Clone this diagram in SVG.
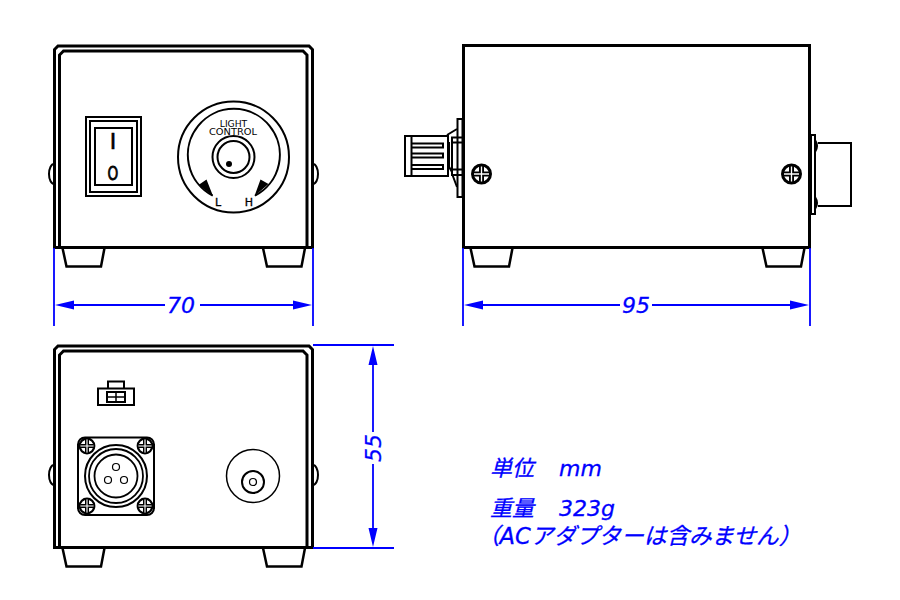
<svg xmlns="http://www.w3.org/2000/svg" width="900" height="600" viewBox="0 0 900 600">
<style>
.k{fill:none;stroke:#000;stroke-width:2}
.w{fill:#fff;stroke:#000;stroke-width:2}
.f{fill:none;stroke:#000;stroke-width:2.500}
.box{fill:none;stroke:#000;stroke-width:3}
.d{fill:none;stroke:#0000ff;stroke-width:1.800}
.dt{fill:#0000ff;stroke:#0000ff;stroke-width:0.300;font-family:"DejaVu Sans","Noto Sans CJK JP",sans-serif;font-style:italic}
.t{fill:#000;font-family:"DejaVu Sans",sans-serif}
</style>
<defs>
<g id="screw"><circle r="9" fill="#fff" stroke="#000" stroke-width="3"/><path d="M-8 0H8M0-8V8" stroke="#000" stroke-width="5"/><path d="M-7.500 0H7.500M0-7.500V7.500" stroke="#fff" stroke-width="1.300"/></g>
<g id="screwS"><circle r="7.300" fill="#fff" stroke="#000" stroke-width="2.200"/><path d="M-6.500 0H6.500M0-6.500V6.500" stroke="#000" stroke-width="4"/><path d="M-6.500 0H6.500M0-6.500V6.500" stroke="#fff" stroke-width="1.100"/></g>
<g id="foot"><path class="f" d="M0.500 0L4.500 18.500H39L42.500 0"/></g>
</defs>
<g id="front-view">
<path class="w" d="M54 164a5 10 0 0 0 0 20zM313 164a5 10 0 0 1 0 20z"/>
<path class="box" d="M54.500 247V49.500L58 46H309L312.500 49.500V247"/>
<path class="box" d="M59.500 247V55L63.500 51H303L307 55V247"/>
<path d="M53 247.500H314" stroke="#000" stroke-width="3"/>
<use href="#foot" x="62" y="248"/><use href="#foot" x="262.500" y="248"/>
</g>
<g id="rocker-switch">
<rect x="86" y="117" width="55" height="79" class="k"/>
<rect x="90" y="121" width="47" height="71" class="k"/>
<rect x="95" y="128" width="37" height="57" class="k"/>
<text x="113" y="149" class="t" font-size="22" text-anchor="middle" stroke="#000" stroke-width=".6">I</text>
<text transform="translate(113,180) scale(.72,1)" class="t" font-size="19" text-anchor="middle" stroke="#000" stroke-width=".8">O</text>
</g>
<g id="light-control">
<circle cx="233.500" cy="157" r="55.500" class="k"/>
<path class="k" d="M212.700 195.700A46 46 0 1 1 255 195.700"/>
<path d="M198.500 185L206.500 179.500L213 196zM254.500 196L260.500 179.500L268.500 184z" fill="#000"/>
<circle cx="233.500" cy="157" r="21" class="k"/>
<circle cx="233.500" cy="157" r="16" class="k"/>
<circle cx="229" cy="164" r="3"/>
<text x="233.500" y="126.800" class="t" font-size="9.200" text-anchor="middle">LIGHT</text>
<text x="233" y="135.300" class="t" font-size="9.500" text-anchor="middle" textLength="48" lengthAdjust="spacingAndGlyphs">CONTROL</text>
<text x="218" y="206" class="t" font-size="11" text-anchor="middle" stroke="#000" stroke-width=".3">L</text>
<text x="249" y="206" class="t" font-size="11" text-anchor="middle" stroke="#000" stroke-width=".3">H</text>
</g>
<g id="side-view">
<rect x="463.500" y="45.500" width="346" height="202" class="box"/>
<use href="#foot" x="470" y="248"/><use href="#foot" x="762" y="248"/>
<use href="#screw" x="481.500" y="174"/><use href="#screw" x="791.500" y="174"/>
</g>
<g id="side-left-connector">
<rect x="457.500" y="119" width="5" height="78" class="k"/>
<path class="k" d="M447 135L457 129M448 165L452 172M452.500 175L457 187"/>
<rect x="452" y="137.500" width="11" height="5" class="k"/>
<rect x="452" y="169.500" width="11" height="5.500" class="k"/>
<path class="k" d="M452 137V175M449 142V169"/>
<rect x="405" y="136" width="43" height="40" class="w"/>
<path class="k" d="M411.500 136V176"/>
<path class="k" d="M411 143.500H443V147.500H411M411 153.500H443V157.500H411M411 165H443V169H411"/>
</g>
<g id="side-right-connector">
<rect x="811" y="135" width="4" height="79" class="k"/>
<path class="k" d="M815 140Q819 146 815 152M815 197Q819 203 815 209"/>
<path class="k" d="M818 143H851V206H818"/>
</g>
<g id="rear-view">
<path class="w" d="M54 465a5 10 0 0 0 0 20zM313 465a5 10 0 0 1 0 20z"/>
<path class="box" d="M54.500 547V349.500L58 346H309L312.500 349.500V547"/>
<path class="box" d="M59.500 547V355L63.500 351H303L307 355V547"/>
<path d="M53 547.500H314" stroke="#000" stroke-width="3"/>
<use href="#foot" x="62" y="548"/><use href="#foot" x="262.500" y="548"/>
</g>
<g id="dc-socket">
<rect x="98" y="388.500" width="36" height="16.500" class="k"/>
<path class="k" d="M108 388.500V381.500H124V388.500"/>
<rect x="107" y="392" width="18" height="10" class="k"/>
<path d="M116 392V402M107 397H125" stroke="#000" stroke-width="1.500"/>
</g>
<g id="xlr-connector">
<rect x="78" y="437.500" width="76" height="77.500" rx="7" class="k"/>
<circle cx="116" cy="476" r="31" class="k"/><circle cx="116" cy="476" r="27" fill="none" stroke="#000" stroke-width="1.800"/><circle cx="116" cy="476" r="21.500" fill="none" stroke="#000" stroke-width="1.800"/>
<g fill="#fff" stroke="#000" stroke-width="1.200"><circle cx="116" cy="467" r="3.500"/><circle cx="108" cy="480" r="3.500"/><circle cx="124" cy="480" r="3.500"/></g>
<use href="#screwS" x="87" y="446"/><use href="#screwS" x="145" y="446"/><use href="#screwS" x="87" y="506"/><use href="#screwS" x="145" y="506"/>
</g>
<g id="round-jack">
<circle cx="253" cy="476" r="26.500" fill="none" stroke="#000" stroke-width="1.500"/>
<circle cx="253" cy="482" r="11" class="k"/>
<circle cx="253" cy="482" r="3.500" fill="none" stroke="#000" stroke-width="1.200"/>
</g>
<g id="dimensions">
<path class="d" d="M54 248V326M313 248V326M463 248V326M810 248V326M313 345H394M313 548H394"/>
<path class="d" d="M70 305H165M200 305H298M478 305H620M652 305H795M373 362V432M373 464V532"/>
<path fill="#0000ff" d="M55 305L74 300.500V309.500zM312 305L293 300.500V309.500zM464 305L483 300.500V309.500zM809 305L790 300.500V309.500zM373 346L368.500 365H377.500zM373 547L368.500 528H377.500z"/>
<text x="181" y="313" class="dt" font-size="22" text-anchor="middle">70</text>
<text x="636" y="313" class="dt" font-size="22" text-anchor="middle">95</text>
<text transform="translate(381,448) rotate(-90)" class="dt" font-size="22" text-anchor="middle">55</text>
</g>
<g id="notes">
<text x="490" y="476" class="dt" font-size="22">単位</text>
<text x="559" y="476" class="dt" font-size="22">mm</text>
<text x="490" y="516" class="dt" font-size="22">重量</text>
<text x="559" y="516" class="dt" font-size="22">323g</text>
<text x="477" y="544" class="dt" font-size="22.600">（ACアダプターは含みません）</text>
</g>
</svg>
